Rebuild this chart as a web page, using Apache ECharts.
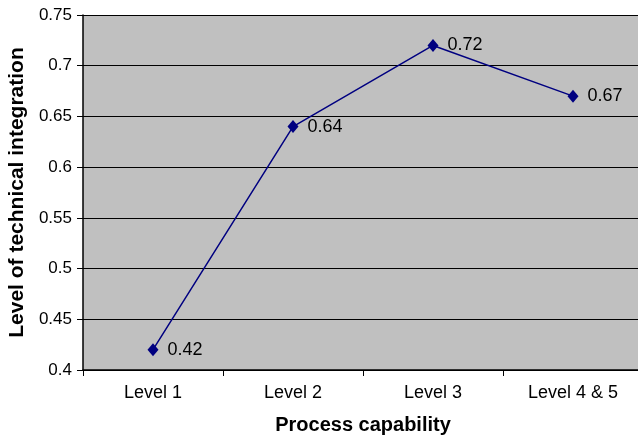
<!DOCTYPE html>
<html><head><meta charset="utf-8">
<script src="https://cdn.jsdelivr.net/npm/echarts@6/dist/echarts.min.js"></script>
<style>html,body{margin:0;padding:0;background:#fff}#c{width:638px;height:440px}</style>
</head><body><div id="c"></div>
<script>
const categories = ['Level 1', 'Level 2', 'Level 3', 'Level 4 & 5'];
const values = [0.42, 0.64, 0.72, 0.67];
const yTicks = [0.4, 0.45, 0.5, 0.55, 0.6, 0.65, 0.7, 0.75];

const chart = echarts.init(document.getElementById('c'), null, {renderer: 'canvas'});
const font = 'Liberation Sans, Arial, sans-serif';
chart.setOption({
  animation: false,
  backgroundColor: '#fff',
  grid: {left: 83, top: 15, width: 560, height: 355, show: true, backgroundColor: '#c0c0c0', borderWidth: 0,
    containLabel: false, outerBoundsMode: 'none'},
  xAxis: {
    type: 'category', data: categories, boundaryGap: true,
    name: 'Process capability', nameLocation: 'middle', nameGap: 45,
    nameTextStyle: {fontFamily: font, fontSize: 20, fontWeight: 'bold', color: '#000'},
    axisLine: {lineStyle: {color: '#000', width: 1.5}},
    axisTick: {show: true, length: 6, lineStyle: {color: '#000'}},
    axisLabel: {fontFamily: font, fontSize: 18, color: '#000', margin: 14},
    splitLine: {show: false}
  },
  yAxis: {
    type: 'value', min: yTicks[0], max: yTicks[yTicks.length - 1], interval: 0.05,
    name: 'Level of technical integration', nameLocation: 'middle', nameGap: 52,
    nameTextStyle: {fontFamily: font, fontSize: 21, fontWeight: 'bold', color: '#000'},
    axisLine: {show: true, lineStyle: {color: '#000', width: 1.5}},
    axisTick: {show: true, length: 6, lineStyle: {color: '#000'}},
    axisLabel: {fontFamily: font, fontSize: 17, color: '#000', margin: 11,
      formatter: v => String(parseFloat(v.toFixed(2)))},
    splitLine: {show: true, lineStyle: {color: '#000', width: 1.2}}
  },
  series: [{
    type: 'line', data: values,
    symbol: 'diamond', symbolSize: [11, 13],
    lineStyle: {color: '#000080', width: 1.5},
    itemStyle: {color: '#000080'},
    label: {show: true, position: 'right', distance: 9, fontFamily: font, fontSize: 18, color: '#000',
      formatter: p => p.value.toFixed(2)}
  }]
});
</script></body></html>
